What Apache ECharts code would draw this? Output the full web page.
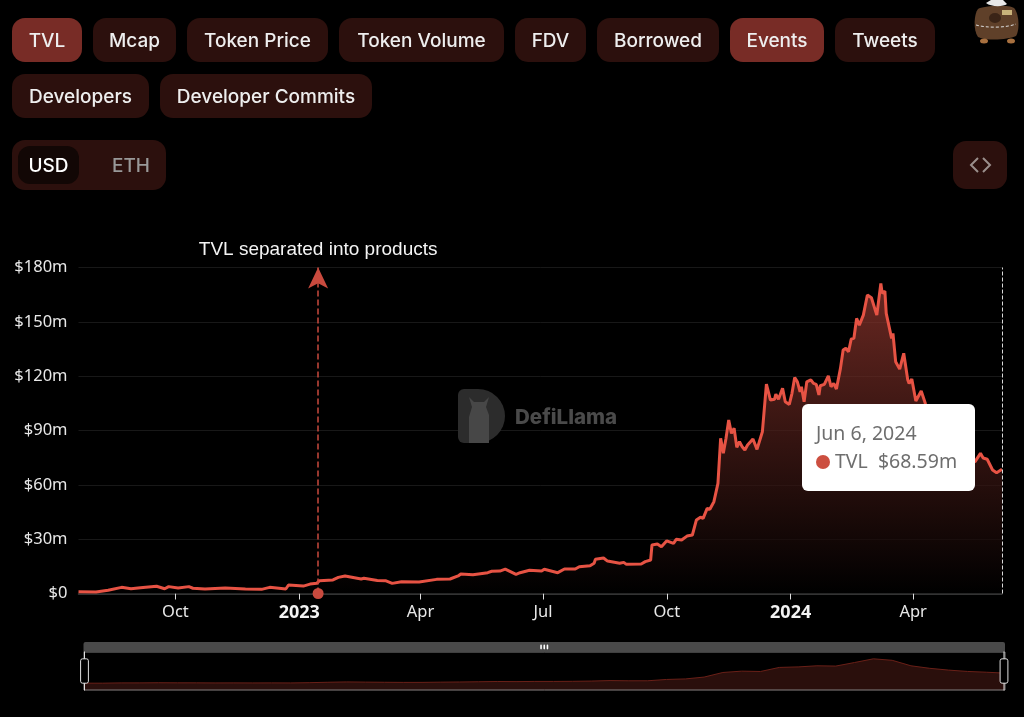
<!DOCTYPE html>
<html>
<head>
<meta charset="utf-8">
<script src="https://cdn.jsdelivr.net/npm/echarts@6/dist/echarts.min.js"></script>
<style>
html,body{margin:0;padding:0;background:#000;width:1024px;height:717px;overflow:hidden;font-family:Inter,sans-serif}
#chart{position:absolute;left:0;top:0;width:1024px;height:717px}
#tabs{position:absolute;left:12px;top:18px;width:950px;display:flex;flex-wrap:wrap;gap:12px 11px}
.b{height:44px;line-height:45px;box-sizing:border-box;text-align:center;border-radius:13px;background:#2c100d;color:#eee;font-size:19px;font-weight:500;white-space:nowrap}
.b.on{background:#782c26}
.b:nth-child(1){width:70px}.b:nth-child(2){width:83px}.b:nth-child(3){width:141px}.b:nth-child(4){width:165px}.b:nth-child(5){width:71px}
.b:nth-child(6){width:122px}.b:nth-child(7){width:94px}.b:nth-child(8){width:100px}.b:nth-child(9){width:137px}.b:nth-child(10){width:212px}
#tog{position:absolute;left:12px;top:140px;width:154px;height:50px;border-radius:13px;background:#2c100d;font-size:19px;font-weight:500}
#tog span{position:absolute;top:6px;height:38px;line-height:39px;text-align:center}
#usd{left:6px;width:61px;background:#120705;border-radius:12px;color:#fff}
#eth{left:84px;width:70px;color:#999}
#code{position:absolute;left:953px;top:141px;width:54px;height:48px;border-radius:13px;background:#2c100d}
#bear{position:absolute;left:972px;top:0}
</style>
</head>
<body>
<div id="chart"></div>
<div id="tabs"></div>
<div id="tog"><span id="usd">USD</span><span id="eth">ETH</span></div>
<div id="code"><svg width="54" height="48" fill="none" stroke="#9a8f8c" stroke-width="2"><path d="M25 17l-7 7 7 7M30 17l7 7-7 7"/></svg></div>
<svg id="bear" width="50" height="46">
<path d="M6 9c4-3 30-5 36-1 5 5 6 22 2 28-8 4-30 5-38 1C1 30 2 14 6 9z" fill="#5f4029"/>
<path d="M14 3l5-3h12l4 4c-4 3-16 3-21-1z" fill="#e8e8e8"/>
<ellipse cx="23" cy="18" rx="6" ry="5" fill="#3a2417"/>
<path d="M4 25c10 3 30 3 40-1" stroke="#ddd" stroke-width="1" stroke-dasharray="3 2" fill="none"/>
<path d="M30 10h10v5H30z" fill="#c9b37a"/>
<ellipse cx="12" cy="41" rx="4" ry="2.5" fill="#a8703f"/><ellipse cx="39" cy="41" rx="4" ry="2.5" fill="#a8703f"/>
</svg>
<script>
const tabLabels = ['TVL','Mcap','Token Price','Token Volume','FDV','Borrowed','Events','Tweets','Developers','Developer Commits'];
const activeTabs = ['TVL','Events'];
const firstDay = '2022-07-21';
const tvlDays = [0,13,22,32,39,46,58,64,67,74,82,85,94,109,124,136,142,154,156,157,167,172,177,179,189,193,198,210,212,222,228,233,240,253,266,276,282,284,293,304,307,313,317,325,328,335,344,346,356,361,369,370,372,380,383,384,390,393,402,405,407,418,421,425,426,430,433,437,442,444,448,452,456,459,462,464,467,469,472,475,477,478,479,481,483,485,487,489,491,493,495,497,501,504,505,508,511,514,517,518,520,523,525,528,530,532,534,536,537,539,541,544,546,548,550,551,554,557,559,561,563,566,568,570,572,574,576,578,580,583,586,589,593,596,597,599,600,601,604,605,607,608,610,613,616,617,619,622,623,626,629,632,638,643,658,664,666,670,672,675,679,682,686];
const tvlMillions = [1.0,0.8,1.8,3.4,2.6,3.2,4.0,2.6,3.8,3.0,3.8,2.9,2.5,3.0,2.5,2.3,3.4,2.5,4.7,3.8,4.1,5.2,5.6,7.1,7.5,8.9,9.7,8.0,8.4,7.2,7.1,5.6,6.5,6.3,7.8,8.0,9.7,10.8,10.4,11.5,12.3,12.4,13.5,10.6,11.5,12.8,12.4,13.4,11.5,13.5,13.5,13.0,14.8,15.3,16.7,18.9,19.6,17.9,16.7,17.2,16.1,16.3,17.6,18.5,26.8,27.3,25.8,29.1,27.7,29.9,29.5,31.7,32.3,40.6,42.1,41.5,47.0,46.5,50.7,60.8,85.7,85.7,77.4,85.7,95.8,88.4,91.2,80.7,83.8,81.0,79.2,82.0,85.3,79.6,79.2,89.3,115.6,106.8,107.2,110.1,107.2,113.3,105.9,104.4,110.5,119.3,116.9,111.4,114.1,105.9,116.9,118.0,116.0,115.5,109.6,114.7,115.5,120.1,114.2,116.0,112.9,124.3,134.4,135.4,133.5,140.5,140.9,151.9,148.2,153.7,164.8,163.3,153.7,171.2,165.7,167.0,154.7,154.7,140.9,143.6,128.0,127.6,123.9,132.6,117.9,116.0,118.4,106.3,105.9,111.8,105.0,93,80,90,80,73,72.8,77.4,74.8,74.1,68.2,66.7,68.59];
// The slider's overview strip, every 14 days (the slider spaces its points evenly).
const overviewStepDays = 14;
const overviewMillions = [1.0,0.9,2.8,2.9,3.9,3.3,3.2,2.6,2.9,2.5,3.0,2.5,4.3,7.2,9.4,8.0,7.1,6.2,6.3,7.8,9.0,10.5,12.3,11.5,12.7,12.6,13.5,15.2,18.5,17.0,17.2,26.0,29.5,42.0,73.0,82.0,79.6,107.0,110.5,118.0,116.0,140.0,165.0,155.0,117.9,101.0,89.0,80.0,74.8,68.59];
const xTickDates = ['2022-10-01','2023-01-01','2023-04-01','2023-07-01','2023-10-01','2024-01-01','2024-04-01'];
const xTickLabels = ['Oct','2023','Apr','Jul','Oct','2024','Apr'];
const yearTicks = ['2023','2024'];
const eventDate = '2023-01-15';
const eventLabel = 'TVL separated into products';
const tooltipDate = 'Jun 6, 2024';
const tooltipSeries = 'TVL';
const tooltipValue = '$68.59m';

const tabs = document.getElementById('tabs');
tabLabels.forEach(t => {
  const d = document.createElement('div');
  d.className = 'b' + (activeTabs.includes(t) ? ' on' : '');
  d.textContent = t;
  tabs.appendChild(d);
});

const DAY = 86400000, t0 = Date.parse(firstDay);
const tvl = tvlDays.map((d, i) => [t0 + d * DAY, tvlMillions[i]]);
const overview = overviewMillions.map((v, i) => [t0 + i * overviewStepDays * DAY, v]);
const tickVals = xTickDates.map(s => Date.parse(s));
const axisFont = '"Noto Sans", sans-serif';

const chart = echarts.init(document.getElementById('chart'), null, {width:1024, height:717});
chart.setOption({
  animation: false,
  backgroundColor: 'transparent',
  grid: {left: 78.5, right: 22, top: 267.5, bottom: 123.5},
  tooltip: {
    trigger: 'axis',
    alwaysShowContent: true,
    transitionDuration: 0,
    position: [802, 404],
    backgroundColor: '#fff',
    borderWidth: 0,
    padding: 0,
    extraCssText: 'border-radius:6px;box-shadow:none;width:173px;height:87px;box-sizing:border-box;padding:15px 14px',
    axisPointer: {type: 'line', animation: false, label: {show: false}, lineStyle: {color: '#d8d8d8', type: 'dashed', width: 1}},
    formatter: () => `<div style="font:19.5px/28px ${axisFont.replace(/"/g,"'")};color:#6e6e6e;white-space:nowrap">${tooltipDate}<br>` +
      `<span style="display:inline-block;width:14px;height:14px;border-radius:50%;background:#cc4f40;vertical-align:-1px;margin-right:5px"></span>${tooltipSeries}&nbsp;&nbsp;${tooltipValue}</div>`
  },
  xAxis: {
    type: 'value',
    min: t0,
    max: t0 + tvlDays[tvlDays.length - 1] * DAY,
    axisLine: {onZero: true, lineStyle: {color: '#444', width: 1.5}},
    axisTick: {show: true, customValues: tickVals, length: 6, lineStyle: {color: '#ddd'}},
    splitLine: {show: false},
    axisLabel: {
      customValues: tickVals,
      color: '#e8e8e8', fontFamily: axisFont, fontSize: 16.5, margin: 10,
      formatter: v => {
        const l = xTickLabels[tickVals.indexOf(v)];
        return yearTicks.includes(l) ? `{y|${l}}` : l;
      },
      rich: {y: {fontWeight: 'bold', color: '#f2f2f2', fontFamily: axisFont, fontSize: 18}}
    }
  },
  yAxis: {
    type: 'value',
    min: 0, max: 180, interval: 30,
    axisLine: {show: false},
    axisTick: {show: false},
    splitLine: {lineStyle: {color: '#181818', width: 1}},
    axisLabel: {color: '#e8e8e8', fontFamily: axisFont, fontSize: 16.5, margin: 11, padding: [0, 0, 3, 0], formatter: v => v === 0 ? '$0' : `$${v}m`}
  },
  dataZoom: [{
    type: 'slider',
    left: 79.5, right: 23, top: 642, height: 39,
    start: 0, end: 100,
    moveHandleSize: 10,
    moveHandleStyle: {color: '#4a4a4a', opacity: 1},
    borderColor: '#808080',
    backgroundColor: 'transparent',
    fillerColor: 'rgba(0,0,0,0)',
    showDetail: false,
    handleStyle: {color: '#000', borderColor: '#e0e0e0', borderWidth: 1},
    dataBackground: {lineStyle: {color: '#6a2018', width: 1, opacity: 1}, areaStyle: {color: '#2a0f0c', opacity: 1}},
    selectedDataBackground: {lineStyle: {color: '#6a2018', width: 1, opacity: 1}, areaStyle: {color: '#2a0f0c', opacity: 1}}
  }],
  graphic: [
    {type: 'rect', z: 1, silent: true, shape: {x: 458, y: 389, width: 47, height: 54, r: [6, 27, 27, 6]}, style: {fill: '#2c2c2c'}},
    {type: 'polygon', z: 2, silent: true, shape: {points: [[469,443],[469,417],[472,407],[469,397],[474,402],[484,402],[489,397],[486,407],[489,415],[489,443]]}, style: {fill: '#474747'}},
    {type: 'text', z: 2, silent: true, x: 515, y: 418, style: {text: 'DefiLlama', fill: '#4a4a4a', font: '800 20.5px Inter, sans-serif', verticalAlign: 'middle', textAlign: 'left'}}
  ],
  series: [{
    name: 'Overview',
    type: 'line',
    data: overview,
    silent: true,
    showSymbol: false,
    symbol: 'none',
    lineStyle: {width: 0, opacity: 0},
    itemStyle: {opacity: 0},
    tooltip: {show: false}
  }, {
    name: tooltipSeries,
    type: 'line',
    data: tvl,
    showSymbol: false,
    symbol: 'none',
    lineStyle: {color: '#d24c3e', width: 3},
    itemStyle: {color: '#cc4f40'},
    areaStyle: {color: new echarts.graphic.LinearGradient(0, 0, 0, 1, [
      {offset: 0, color: '#8a342c'}, {offset: 1, color: '#000'}
    ])},
    markLine: {
      silent: true,
      animation: false,
      lineStyle: {color: '#c94a3e', type: 'dashed', width: 1.5},
      label: {position: 'end', formatter: eventLabel, color: '#f4f4f4', fontFamily: '"Liberation Sans", Arial, sans-serif', fontSize: 19, distance: 8},
      data: [[
        {xAxis: Date.parse(eventDate), yAxis: 0, symbol: 'circle', symbolSize: 11, itemStyle: {color: '#cc4f40'}},
        {xAxis: Date.parse(eventDate), yAxis: 180, symbol: 'arrow', symbolSize: [15, 21], itemStyle: {color: '#cc4f40'}}
      ]]
    }
  }]
});
chart.dispatchAction({type: 'showTip', seriesIndex: 1, dataIndex: tvl.length - 1});
</script>
</body>
</html>
